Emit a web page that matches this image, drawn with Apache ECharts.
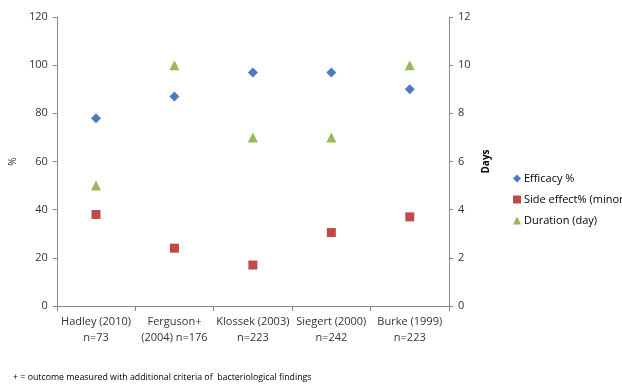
<!DOCTYPE html>
<html>
<head>
<meta charset="utf-8">
<script src="https://cdn.jsdelivr.net/npm/echarts@6/dist/echarts.min.js"></script>
<style>
  html, body { margin: 0; padding: 0; background: #fff; }
  #chart { width: 622px; height: 385px; }
</style>
</head>
<body>
<div id="chart"></div>
<script>
// Studies compared (category axis)
const studies = [
  'Hadley (2010)\nn=73',
  'Ferguson+\n(2004) n=176',
  'Klossek (2003)\nn=223',
  'Siegert (2000)\nn=242',
  'Burke (1999)\nn=223'
];
// Percent values (left axis)
const efficacy = [78, 87, 97, 97, 90];
const sideEffect = [38, 24, 17, 30.5, 37];
// Days (right axis)
const duration = [5, 10, 7, 7, 10];

const leftTicks = { min: 0, max: 120, interval: 20 };
const rightTicks = { min: 0, max: 12, interval: 2 };

const font = 'Open Sans, Liberation Sans, sans-serif';
const axisGray = '#868686';
const textColor = '#333333';

const chart = echarts.init(document.getElementById('chart'), null, { renderer: 'canvas' });

chart.setOption({
  animation: false,
  backgroundColor: '#fff',
  grid: { left: 55, right: 173, top: 17, bottom: 79, containLabel: false },
  textStyle: { fontFamily: font },
  xAxis: {
    type: 'category',
    data: studies,
    boundaryGap: true,
    axisLine: { lineStyle: { color: axisGray } },
    axisTick: { show: true, alignWithLabel: false, length: 5, lineStyle: { color: axisGray } },
    axisLabel: { color: textColor, fontSize: 11, fontFamily: font, lineHeight: 16, margin: 8, interval: 0 }
  },
  yAxis: [
    {
      type: 'value',
      min: leftTicks.min, max: leftTicks.max, interval: leftTicks.interval,
      name: '%',
      nameLocation: 'middle',
      nameGap: 37,
      nameRotate: 90,
      nameTextStyle: { color: textColor, fontSize: 10, fontFamily: font },
      axisLine: { show: true, lineStyle: { color: axisGray } },
      axisTick: { show: true, length: 4, lineStyle: { color: axisGray } },
      splitLine: { show: false },
      axisLabel: { color: textColor, fontSize: 11, fontFamily: font, margin: 9 }
    },
    {
      type: 'value',
      position: 'right',
      min: rightTicks.min, max: rightTicks.max, interval: rightTicks.interval,
      name: 'Days',
      nameLocation: 'middle',
      nameGap: 31,
      nameRotate: 90,
      nameTextStyle: { color: '#000', fontSize: 10, fontWeight: 'bold', fontFamily: font },
      axisLine: { show: true, lineStyle: { color: axisGray } },
      axisTick: { show: true, length: 4, lineStyle: { color: axisGray } },
      splitLine: { show: false },
      axisLabel: { color: textColor, fontSize: 11, fontFamily: font, margin: 9 }
    }
  ],
  legend: {
    orient: 'vertical',
    left: 508,
    top: 168,
    itemWidth: 8,
    itemHeight: 8,
    itemGap: 10,
    textStyle: { color: '#000', fontSize: 11, fontFamily: font, padding: [0, 0, 0, -2] },
    data: [
      { name: 'Efficacy %', icon: 'diamond' },
      { name: 'Side effect% (minor)', icon: 'rect' },
      { name: 'Duration (day)', icon: 'triangle' }
    ]
  },
  series: [
    {
      name: 'Efficacy %',
      type: 'scatter',
      yAxisIndex: 0,
      symbol: 'diamond',
      symbolSize: 10,
      itemStyle: { color: '#4A7EBB', opacity: 1 },
      data: efficacy
    },
    {
      name: 'Side effect% (minor)',
      type: 'scatter',
      yAxisIndex: 0,
      symbol: 'rect',
      symbolSize: 9,
      itemStyle: { color: '#BE4B48', opacity: 1 },
      data: sideEffect
    },
    {
      name: 'Duration (day)',
      type: 'scatter',
      yAxisIndex: 1,
      symbol: 'triangle',
      symbolSize: 10,
      itemStyle: { color: '#98B954', opacity: 1 },
      data: duration
    }
  ],
  graphic: [
    {
      type: 'text',
      left: 13,
      top: 373,
      style: {
        text: '+ = outcome measured with additional criteria of  bacteriological findings',
        fill: '#000',
        font: '8.8px ' + font
      }
    }
  ]
});
</script>
</body>
</html>
